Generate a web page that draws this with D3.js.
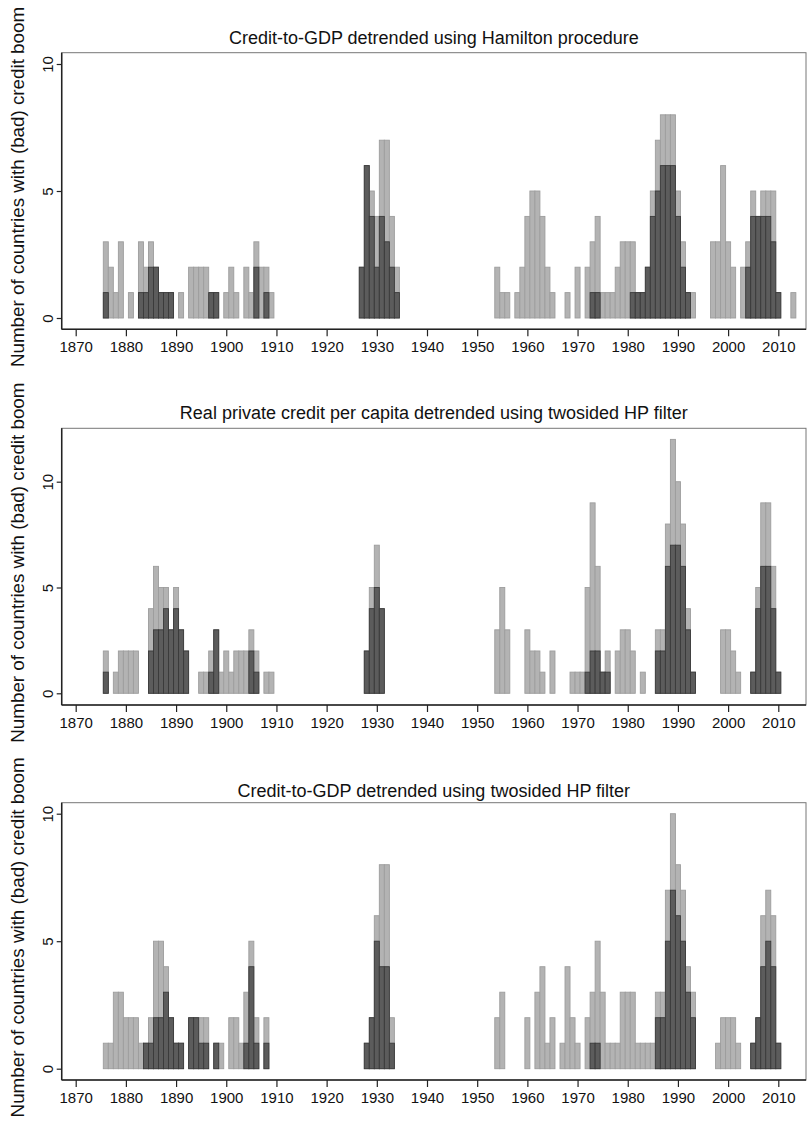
<!DOCTYPE html>
<html>
<head>
<meta charset="utf-8">
<script src="https://cdn.jsdelivr.net/npm/d3@7/dist/d3.min.js"></script>
<style>
  body { margin: 0; background: #fff; }
  text { font-family: "Liberation Sans", Arial, sans-serif; fill: #111; }
</style>
</head>
<body>
<svg id="chart" width="807" height="1122"></svg>
<script>
// Yearly counts of countries, 1876–2013 (one value per year).
const firstYear = 1876;

const panelTitles = [
  "Credit-to-GDP detrended using Hamilton procedure",
  "Real private credit per capita detrended using twosided HP filter",
  "Credit-to-GDP detrended using twosided HP filter"
];
const yAxisTitle = "Number of countries with (bad) credit boom";

// Credit-to-GDP, Hamilton procedure: all booms / bad booms
const hamiltonAll = [
  3,2,1,3,0,1,0,3,2,3,  2,1,1,1,0,1,0,2,2,2,  2,1,1,0,1,2,1,0,2,1,
  3,2,2,1,0,0,0,0,0,0,  0,0,0,0,0,0,0,0,0,0,  0,2,6,5,4,7,7,4,2,0,
  0,0,0,0,0,0,0,0,0,0,  0,0,0,0,0,0,0,0,2,1,  1,0,1,2,4,5,5,4,2,1,
  0,0,1,0,2,0,2,3,4,1,  1,1,2,3,3,3,1,1,2,5,  7,8,8,8,5,3,1,1,0,0,
  0,3,3,6,3,2,0,2,3,5,  4,5,5,5,1,0,0,1
];
const hamiltonBad = [
  1,0,0,0,0,0,0,1,1,2,  2,1,1,1,0,0,0,0,0,0,  0,1,1,0,0,0,0,0,0,0,
  2,0,1,0,0,0,0,0,0,0,  0,0,0,0,0,0,0,0,0,0,  0,2,6,4,2,4,3,2,1,0,
  0,0,0,0,0,0,0,0,0,0,  0,0,0,0,0,0,0,0,0,0,  0,0,0,0,0,0,0,0,0,0,
  0,0,0,0,0,0,0,1,1,0,  0,0,0,0,0,1,1,1,2,4,  5,6,6,6,4,2,1,0,0,0,
  0,0,0,0,0,0,0,0,2,4,  4,4,4,3,1,0,0,0
];

// Real private credit per capita, two-sided HP filter
const realCreditAll = [
  2,0,1,2,2,2,2,0,0,4,  6,5,5,3,5,3,2,0,0,1,  1,2,3,1,2,1,2,2,2,3,
  2,0,1,1,0,0,0,0,0,0,  0,0,0,0,0,0,0,0,0,0,  0,0,2,5,7,4,0,0,0,0,
  0,0,0,0,0,0,0,0,0,0,  0,0,0,0,0,0,0,0,3,5,  3,0,0,0,3,2,2,1,0,2,
  0,0,0,1,1,1,5,9,6,1,  2,0,2,3,3,2,0,1,0,0,  3,3,8,12,10,8,4,1,0,0,
  0,0,0,3,3,2,1,0,0,1,  5,9,9,6,1,0,0,0
];
const realCreditBad = [
  1,0,0,0,0,0,0,0,0,2,  3,3,4,3,4,3,2,0,0,0,  0,1,3,0,0,0,0,0,0,2,
  1,0,0,0,0,0,0,0,0,0,  0,0,0,0,0,0,0,0,0,0,  0,0,2,4,5,4,0,0,0,0,
  0,0,0,0,0,0,0,0,0,0,  0,0,0,0,0,0,0,0,0,0,  0,0,0,0,0,0,0,0,0,0,
  0,0,0,0,0,0,1,2,2,1,  1,0,0,0,0,0,0,0,0,0,  2,2,6,7,7,6,3,1,0,0,
  0,0,0,0,0,0,0,0,0,1,  4,6,6,4,1,0,0,0
];

// Credit-to-GDP, two-sided HP filter
const hpGdpAll = [
  1,1,3,3,2,2,2,1,1,2,  5,5,4,2,1,1,0,2,2,2,  2,0,1,1,0,2,2,1,3,5,
  2,0,2,0,0,0,0,0,0,0,  0,0,0,0,0,0,0,0,0,0,  0,0,1,2,6,8,8,2,0,0,
  0,0,0,0,0,0,0,0,0,0,  0,0,0,0,0,0,0,0,2,3,  0,0,0,0,2,0,3,4,1,2,
  0,1,4,2,1,0,2,3,5,3,  1,1,1,3,3,3,1,1,1,1,  3,3,7,10,8,7,4,3,0,0,
  0,0,1,2,2,2,1,0,0,1,  2,6,7,6,1,0,0,0
];
const hpGdpBad = [
  0,0,0,0,0,0,0,0,1,1,  2,2,3,2,1,1,0,2,2,1,  1,0,1,0,0,0,0,0,1,4,
  1,0,1,0,0,0,0,0,0,0,  0,0,0,0,0,0,0,0,0,0,  0,0,1,2,5,4,4,1,0,0,
  0,0,0,0,0,0,0,0,0,0,  0,0,0,0,0,0,0,0,0,0,  0,0,0,0,0,0,0,0,0,0,
  0,0,0,0,0,0,0,1,1,0,  0,0,0,0,0,0,0,0,0,0,  2,2,5,7,6,5,3,2,0,0,
  0,0,0,0,0,0,0,0,0,1,  2,4,5,4,1,0,0,0
];

const xTickValues = d3.range(1870, 2011, 10);
const yTickValues = [0, 5, 10];

const seriesAll = [hamiltonAll, realCreditAll, hpGdpAll];
const seriesBad = [hamiltonBad, realCreditBad, hpGdpBad];

// Panel geometry (pixel positions of the plot regions)
const plotLeft = 61.7, plotRight = 806;
const panels = [
  { top: 52.7,  bottom: 329.3, zeroY: 318.0,  tenY: 64.0,  titleY: 44 },
  { top: 428.3, bottom: 705.0, zeroY: 693.3,  tenY: 481.7, titleY: 419 },
  { top: 802.7, bottom: 1080.0, zeroY: 1068.7, tenY: 813.7, titleY: 797 }
];

const svg = d3.select("#chart");
const x = d3.scaleLinear().domain([1870, 2010]).range([75.7, 778.3]);

const lightFill = "#b3b3b3", lightStroke = "#9d9d9d";
const darkFill = "#5c5c5c", darkStroke = "#3a3a3a";
const fontStack = '"Liberation Sans", Arial, sans-serif';

panels.forEach((p, k) => {
  const y = d3.scaleLinear().domain([0, 10]).range([p.zeroY, p.tenY]);
  const g = svg.append("g");

  // plot region frame
  g.append("rect")
    .attr("x", plotLeft).attr("y", p.top)
    .attr("width", plotRight - plotLeft).attr("height", p.bottom - p.top)
    .attr("fill", "#fff").attr("stroke", "#777").attr("stroke-width", 1);

  const rows = seriesAll[k].map((v, i) => ({
    year: firstYear + i, all: v, bad: seriesBad[k][i]
  }));

  // all credit booms (light) then bad booms (dark) on top
  g.append("g").selectAll("rect")
    .data(rows.filter(d => d.all > 0))
    .join("rect")
    .attr("x", d => x(d.year - 0.5))
    .attr("width", d => x(d.year + 0.5) - x(d.year - 0.5))
    .attr("y", d => y(d.all))
    .attr("height", d => y(0) - y(d.all))
    .attr("fill", lightFill).attr("stroke", lightStroke).attr("stroke-width", 0.9);

  g.append("g").selectAll("rect")
    .data(rows.filter(d => d.bad > 0))
    .join("rect")
    .attr("x", d => x(d.year - 0.5))
    .attr("width", d => x(d.year + 0.5) - x(d.year - 0.5))
    .attr("y", d => y(d.bad))
    .attr("height", d => y(0) - y(d.bad))
    .attr("fill", darkFill).attr("stroke", darkStroke).attr("stroke-width", 0.9);

  // x axis
  const xAxis = d3.axisBottom(x).tickValues(xTickValues).tickFormat(d3.format("d"))
    .tickSize(7).tickPadding(5);
  const gx = g.append("g").attr("transform", `translate(0,${p.bottom})`).call(xAxis);
  gx.select(".domain").attr("d", `M${plotLeft},0H${plotRight}`).attr("stroke", "#222").attr("stroke-width", 1.5);
  gx.selectAll(".tick line").attr("stroke", "#222").attr("stroke-width", 1.2);
  gx.selectAll(".tick text").attr("font-size", 15).attr("fill", "#111")
    .style("font-family", fontStack);

  // y axis with vertical tick labels
  const yAxis = d3.axisLeft(y).tickValues(yTickValues).tickSize(5).tickFormat(d3.format("d"));
  const gy = g.append("g").attr("transform", `translate(${plotLeft},0)`).call(yAxis);
  gy.select(".domain").attr("d", `M0,${p.top}V${p.bottom}`).attr("stroke", "#222").attr("stroke-width", 1.5);
  gy.selectAll(".tick line").attr("stroke", "#222").attr("stroke-width", 1.2);
  gy.selectAll(".tick text")
    .attr("x", null).attr("dy", null)
    .attr("text-anchor", "middle")
    .attr("transform", "translate(-9,0) rotate(-90)")
    .attr("font-size", 15).attr("fill", "#111")
    .style("font-family", fontStack);

  // panel title
  g.append("text")
    .attr("x", (plotLeft + plotRight) / 2).attr("y", p.titleY)
    .attr("text-anchor", "middle").attr("font-size", 18)
    .text(panelTitles[k]);

  // y axis title
  const cy = (p.top + p.bottom) / 2 - 4;
  g.append("text")
    .attr("transform", `translate(24,${cy}) rotate(-90)`)
    .attr("text-anchor", "middle").attr("font-size", 18.8)
    .text(yAxisTitle);
});
</script>
</body>
</html>
